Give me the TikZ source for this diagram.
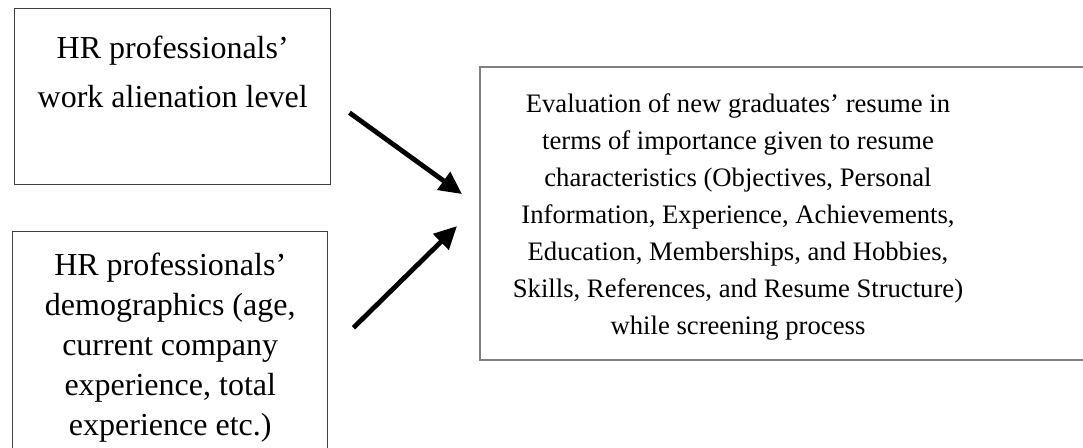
\documentclass[tikz,border=0pt]{standalone}
\usepackage{fontspec}
\setmainfont{Liberation Serif}
\usetikzlibrary{arrows.meta,calc,positioning}
\definecolor{boxgray}{RGB}{128,128,128}

\begin{document}
\begin{tikzpicture}[x=0.75pt,y=-0.75pt,
    every node/.style={align=center,inner sep=0pt},
    factor/.style={draw=black!75,line width=1.1pt,anchor=north west},
    link/.style={-{Triangle[length=17pt,width=16pt]},line width=3.6pt}]
  \clip (0,0) rectangle (1083,447);
  % the two input factors on the left
  \node[factor,minimum width=237pt,minimum height=132pt,font=\fontsize{24}{30}\selectfont] (alien) at (14,8) {HR professionals'\\[7pt]work alienation level\\[-1pt]\strut};
  \node[factor,minimum width=236.25pt,minimum height=174pt,font=\fontsize{24}{28}\selectfont] (demo) at (12,231) {HR professionals'\\[2pt]demographics (age,\\[2pt]current company\\[2pt]experience, total\\[2pt]experience etc.)};
  % outcome box, runs off the right edge
  \node[draw=boxgray,line width=1.6pt,anchor=north west,minimum width=480pt,minimum height=219.75pt] (resume) at (479,66) {};
  \node[font=\fontsize{20}{27}\selectfont] (resumetext) at (738,217) {Evaluation of new graduates' resume in\\[0.75pt]terms of importance given to resume\\[0.75pt]characteristics (Objectives, Personal\\[0.75pt]Information, Experience, Achievements,\\[0.75pt]Education, Memberships, and Hobbies,\\[0.75pt]Skills, References, and Resume Structure)\\[0.75pt]while screening process};
  % arrows float between the boxes
  \coordinate (alienout) at ($(alien.east)+(18,16)$);
  \coordinate (alienin) at ($(resume.west)+(-17,-19.5)$);
  \coordinate (demoout) at ($(demo.east)+(25,-20)$);
  \coordinate (demoin) at ($(resume.west)+(-22,12.5)$);
  \draw[link] (alienout) -- (alienin);
  \draw[link] (demoout) -- (demoin);
\end{tikzpicture}
\end{document}
